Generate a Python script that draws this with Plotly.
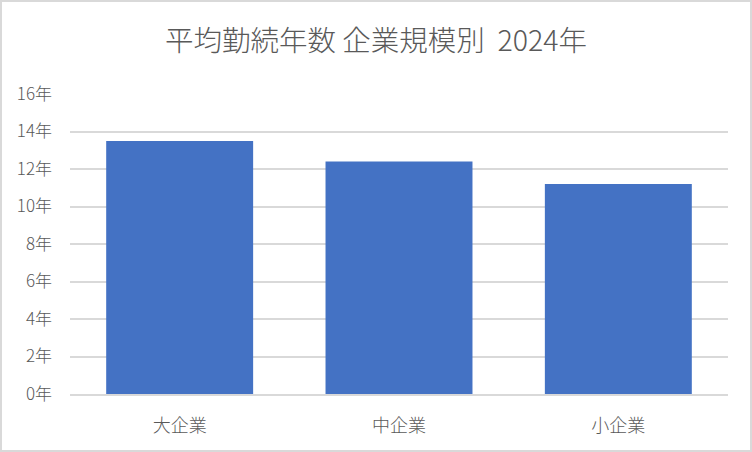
import plotly.graph_objects as go

# データ
categories = ['大企業', '中企業', '小企業']
years = [13.5, 12.4, 11.2]
tick_vals = [0, 2, 4, 6, 8, 10, 12, 14, 16]
tick_text = [f'{v}年' for v in tick_vals]

W, H = 752, 452
ml, mr, mt, mb = 70, 24, 94, 58
pw, ph = W - ml - mr, H - mt - mb

fig = go.Figure()
fig.add_trace(go.Bar(
    x=categories,
    y=years,
    marker=dict(color='#4472C4', line=dict(width=0)),
    width=0.67,
    hoverinfo='x+y',
))

font_jp = 'Noto Sans CJK JP'

fig.update_layout(
    width=W, height=H,
    margin=dict(l=ml, r=mr, t=mt, b=mb),
    title=dict(
        text='平均勤続年数 企業規模別  2024年',
        x=0.5, xanchor='center',
        y=1 - 41 / H, yanchor='middle',
        font=dict(family=font_jp, size=28.5, color='#595959', weight=300),
    ),
    font=dict(family=font_jp, color='#595959'),
    plot_bgcolor='white',
    paper_bgcolor='white',
    showlegend=False,
    bargap=0.33,
    xaxis=dict(
        showgrid=False,
        showline=True, linecolor='#d9d9d9', linewidth=2,
        ticks='', tickfont=dict(size=18, color='#595959', weight=300),
        ticklabelstandoff=14,
    ),
    yaxis=dict(
        range=[0, 16],
        tickvals=tick_vals,
        ticktext=tick_text,
        showgrid=True, gridcolor='#d9d9d9', gridwidth=2,
        zeroline=False, showline=False,
        ticks='', tickfont=dict(size=17, color='#595959', weight=300),
        ticklabelstandoff=17,
    ),
    shapes=[dict(
        type='rect', xref='paper', yref='paper',
        x0=-(ml - 1) / pw, x1=1 + (mr - 1) / pw,
        y0=-(mb - 1) / ph, y1=1 + (mt - 1) / ph,
        line=dict(color='#d9d9d9', width=2),
        fillcolor='rgba(0,0,0,0)',
    )],
)

fig.write_html('out.html', config={'displayModeBar': False},
               post_script='document.body.style.margin="0";')
